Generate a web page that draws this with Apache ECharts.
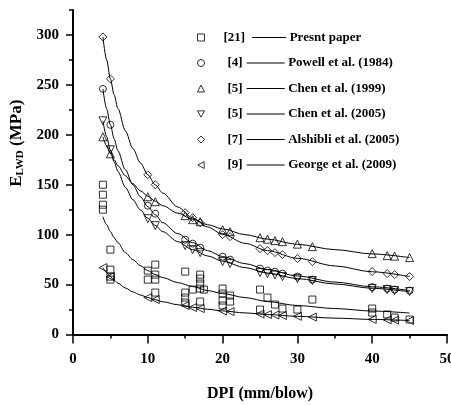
<!DOCTYPE html>
<html>
<head>
<meta charset="utf-8">
<script src="https://cdn.jsdelivr.net/npm/echarts@6/dist/echarts.min.js"></script>
<style>
  html, body { margin: 0; padding: 0; background: #fff; }
  #chart { width: 451px; height: 405px; }
</style>
</head>
<body>
<div id="chart"></div>
<script>
// DPI values at which the published correlations are plotted
const dpi = [4, 5, 10, 11, 15, 16, 17, 20, 21, 25, 26, 27, 28, 30, 32, 40, 42, 43, 45];
const powell1984 = [246, 210, 129, 121, 95, 91, 87, 78, 75, 66, 64, 63, 61, 58, 55, 47.5, 46, 45, 44];
const chen1999 = [198, 181, 138, 133, 119, 115, 113, 105, 103, 97, 95.5, 94, 93, 90.5, 88, 81, 79, 78.5, 77];
const chen2005 = [214, 185, 116, 109, 89, 85, 82, 73, 71, 62, 61, 59.5, 58, 56, 54, 46, 45, 44, 43];
const alshibli2005 = [298, 256, 160, 150, 122, 117, 112, 100, 98, 86, 84, 82, 80, 76, 73, 63, 61, 60, 58];
const george2009 = [67, 58, 37, 35, 29, 27, 26, 23.5, 23, 20.5, 20, 19.5, 19, 18.2, 17.5, 15.1, 14.7, 14.4, 14];

// Field measurements of this study
const presentDpi = [4, 4, 4, 4, 5, 5, 5, 5, 10, 10, 11, 11, 11, 11, 15, 15, 15, 15, 16, 17, 17, 17, 17, 17, 17.5,
  20, 20, 20, 20, 21, 21, 25, 25, 26, 27, 28, 30, 32, 40, 40, 42, 43, 45];
const presentE = [150, 140, 130, 125, 85, 65, 58, 55, 64, 55, 70, 60, 55, 42, 63, 42, 37, 32, 45, 60, 56, 51, 46, 33, 45,
  46, 41, 34, 29, 39, 33, 45, 25, 37, 30, 26, 25, 35, 26, 22, 20, 17, 15];

// Trend curves, sampled along DPI
const curveDpi = [4, 4.5, 5, 5.5, 6, 7, 8, 9, 10, 11, 12, 14, 16, 18, 20, 23, 26, 30, 35, 40, 45];
const presentFit = [118, 110, 103, 97, 92, 82, 75, 69, 64, 60, 57, 52, 48, 44, 41, 37, 33, 29, 26, 23.5, 21.5];
const powellFit = [246, 226, 210, 196, 184, 165, 150, 138, 128, 120, 112, 101, 92, 84, 78, 71, 65, 58.6, 52.5, 47.8, 44];
const chen1999Fit = [198, 189, 181.5, 175, 169, 159, 151, 144, 138.5, 133.5, 129, 121.5, 115.4, 110, 105.8, 100, 95.5, 90.3, 85, 80.7, 77];
const chen2005Fit = [214, 198, 184.5, 173, 163.4, 147.5, 135, 124.8, 116.4, 109.2, 103, 93, 85, 78.7, 73.4, 67, 61.6, 56, 50.6, 46.3, 42.8];
const alshibliFit = [298, 275, 256, 240, 226.4, 204, 186.4, 172, 160, 150, 141.7, 127.7, 116.6, 107.7, 100.3, 91.3, 84, 76.3, 68.7, 62.8, 58];
const georgeFit = [67, 62, 58, 54.4, 51.4, 46.6, 42.7, 39.6, 37, 34.8, 32.8, 29.8, 27.3, 25.3, 23.6, 21.6, 20, 18.2, 16.4, 15.1, 14];

const seriesNames = ['Presnt paper', 'Powell et al. (1984)', 'Chen et al. (1999)',
  'Chen et al. (2005)', 'Alshibli et al. (2005)', 'George et al. (2009)'];
const refs = ['[21]', '[4]', '[5]', '[5]', '[7]', '[9]'];

const xTicks = [0, 10, 20, 30, 40, 50];
const yTicks = [0, 50, 100, 150, 200, 250, 300];

const downTri = 'path://M0,0 L10,0 L5,9 Z';
const leftTri = 'path://M9,0 L9,10 L0,5 Z';
const symbols = ['rect', 'circle', 'triangle', downTri, 'diamond', leftTri];
const sizes = [7, 7, 8, 8, 8, 8];

const FONT = 'Liberation Serif';
const hollow = { color: 'rgba(255,255,255,0)', borderColor: '#000', borderWidth: 1 };
const pair = (xs, ys) => xs.map((x, i) => [x, ys[i]]);

function markers(idx, xs, ys) {
  return {
    name: seriesNames[idx],
    type: 'scatter',
    data: pair(xs, ys),
    symbol: symbols[idx],
    symbolSize: sizes[idx],
    itemStyle: hollow,
    emphasis: { disabled: true },
    z: 3
  };
}
function curve(ys) {
  return {
    type: 'line',
    data: pair(curveDpi, ys),
    smooth: 0.3,
    smoothMonotone: 'x',
    symbol: 'none',
    lineStyle: { color: '#000', width: 1 },
    emphasis: { disabled: true },
    silent: true,
    z: 2
  };
}

const chart = echarts.init(document.getElementById('chart'), null, { renderer: 'canvas' });
chart.setOption({
  animation: false,
  backgroundColor: '#fff',
  textStyle: { fontFamily: FONT },
  grid: { left: 73, right: 4, top: 10, bottom: 70.5, containLabel: false, outerBoundsMode: 'none' },
  legend: {
    orient: 'vertical',
    left: 197,
    top: 31,
    padding: 0,
    itemGap: 12.5,
    itemWidth: 7,
    itemHeight: 7,
    selectedMode: false,
    data: seriesNames.map((n, i) => ({ name: n, icon: symbols[i], itemStyle: hollow })),
    formatter: name => {
      const i = seriesNames.indexOf(name);
      const k = refs[i].length > 3 ? '2' : '1';
      return '{r' + k + '|' + refs[i] + '}{s' + k + '| }{l' + k + '| }{lab|' + name + '}';
    },
    textStyle: {
      fontFamily: FONT,
      fontWeight: 'bold',
      fontSize: 13,
      color: '#000',
      rich: {
        r2: { fontFamily: FONT, fontWeight: 'bold', fontSize: 13, padding: [0, 0, 0, 14] },
        r1: { fontFamily: FONT, fontWeight: 'bold', fontSize: 13, padding: [0, 0, 0, 18] },
        s2: { width: 7 },
        s1: { width: 4 },
        l2: { width: 34, height: 1, backgroundColor: '#000', verticalAlign: 'middle' },
        l1: { width: 38, height: 1, backgroundColor: '#000', verticalAlign: 'middle' },
        lab: { fontFamily: FONT, fontWeight: 'bold', fontSize: 13, padding: [0, 0, 0, 3.5] }
      }
    }
  },
  xAxis: {
    type: 'value',
    min: 0,
    max: 50,
    interval: 10,
    name: 'DPI (mm/blow)',
    nameLocation: 'middle',
    nameGap: 51,
    nameTextStyle: { fontFamily: FONT, fontWeight: 'bold', fontSize: 16, color: '#000' },
    axisLine: { show: true, onZero: false, lineStyle: { color: '#000', width: 2 } },
    axisTick: { show: true, inside: false, length: 9, lineStyle: { color: '#000', width: 1.5 } },
    minorTick: { show: true, splitNumber: 2, length: 4, lineStyle: { color: '#000', width: 1.5 } },
    axisLabel: {
      margin: 17,
      fontFamily: FONT, fontWeight: 'bold', fontSize: 15, color: '#000',
      customValues: xTicks,
      alignMaxLabel: 'center'
    },
    splitLine: { show: false }
  },
  yAxis: [{
    type: 'value',
    position: 'left',
    min: 0,
    max: 325,
    interval: 50,
    name: '{a|E}{b|LWD}{c| (MPa)}',
    nameLocation: 'middle',
    nameRotate: 90,
    nameGap: 47,
    nameTextStyle: {
      fontFamily: FONT, fontWeight: 'bold', fontSize: 16, color: '#000',
      rich: {
        a: { fontFamily: FONT, fontWeight: 'bold', fontSize: 17, color: '#000', padding: [0, 0, 0, 58] },
        b: { fontFamily: FONT, fontWeight: 'bold', fontSize: 11, color: '#000', verticalAlign: 'bottom', padding: [6, 0, 0, 0] },
        c: { fontFamily: FONT, fontWeight: 'bold', fontSize: 17, color: '#000' }
      }
    },
    axisLine: { show: true, onZero: false, lineStyle: { color: '#000', width: 2 } },
    axisTick: { show: true, inside: false, length: 7, customValues: yTicks, lineStyle: { color: '#000', width: 1.5 } },
    axisLabel: {
      margin: 14,
      fontFamily: FONT, fontWeight: 'bold', fontSize: 15, color: '#000',
      customValues: yTicks
    },
    splitLine: { show: false }
  }, {
    // short ticks every 25 MPa
    type: 'value',
    position: 'left',
    min: 0,
    max: 325,
    interval: 25,
    axisLine: { show: false },
    axisTick: { show: true, inside: false, length: 4, lineStyle: { color: '#000', width: 1.5 } },
    axisLabel: { show: false },
    splitLine: { show: false }
  }],
  series: [
    markers(0, presentDpi, presentE),
    markers(1, dpi, powell1984),
    markers(2, dpi, chen1999),
    markers(3, dpi, chen2005),
    markers(4, dpi, alshibli2005),
    markers(5, dpi, george2009),
    curve(presentFit),
    curve(powellFit),
    curve(chen1999Fit),
    curve(chen2005Fit),
    curve(alshibliFit),
    curve(georgeFit)
  ]
});
</script>
</body>
</html>
